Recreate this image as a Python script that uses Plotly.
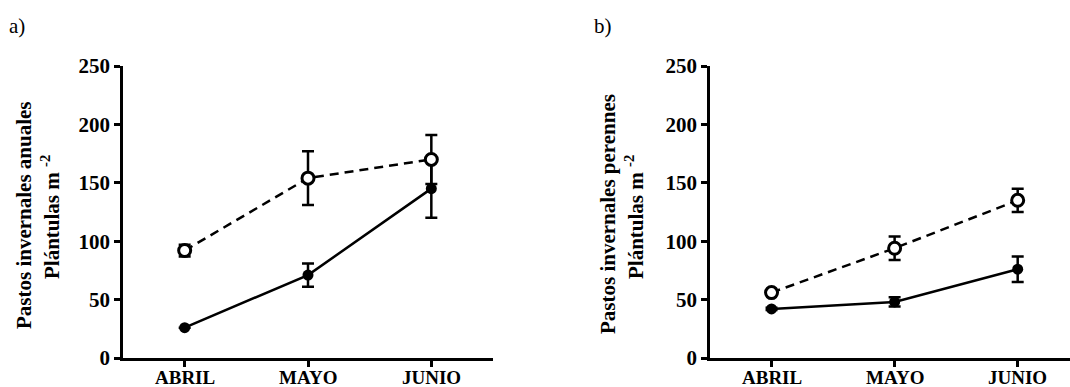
import plotly.graph_objects as go

# Sampling months
months = ["ABRIL", "MAYO", "JUNIO"]

# a) annual winter grasses (plants per m2)
a_open = [92, 154, 170]
a_open_err = [5, 23, 21]
a_closed = [26, 71, 145]
a_closed_err = [0, 10, 25]

# b) perennial winter grasses (plants per m2)
b_open = [56, 94, 135]
b_open_err = [2, 10, 10]
b_closed = [42, 48, 76]
b_closed_err = [1, 4, 11]

FONT = "Liberation Serif, Times New Roman, serif"
BLACK = "#000000"
LW = 2.5

fig = go.Figure()


def add_series(y, err, xa, ya, filled):
    fig.add_trace(go.Scatter(
        x=list(range(len(months))), y=y,
        xaxis=xa, yaxis=ya,
        mode="lines+markers",
        line=dict(color=BLACK, width=LW, dash="solid" if filled else "9px,6px"),
        marker=dict(
            symbol="circle",
            size=11 if filled else 12,
            color=BLACK if filled else "white",
            line=dict(color=BLACK, width=0 if filled else 3),
        ),
        error_y=dict(type="data", array=err, visible=True,
                     color=BLACK, thickness=LW, width=6),
        showlegend=False,
        cliponaxis=False,
    ))


add_series(a_closed, a_closed_err, "x", "y", True)
add_series(a_open, a_open_err, "x", "y", False)
add_series(b_closed, b_closed_err, "x2", "y2", True)
add_series(b_open, b_open_err, "x2", "y2", False)

W, H = 1070, 387
y_dom = [1 - 358 / H, 1 - 66 / H]

y_tick_font = dict(family=FONT, size=21, color=BLACK, weight="bold")
x_tick_font = dict(family=FONT, size=19, color=BLACK, weight="bold")

# month labels are placed as annotations just under the axis line
common_x = dict(
    tickmode="array", tickvals=[0, 1, 2], showticklabels=False,
    showline=True, linecolor=BLACK, linewidth=LW,
    ticks="outside", ticklen=6, tickwidth=LW, tickcolor=BLACK,
    showgrid=False, zeroline=False, automargin=False,
)
common_y = dict(
    range=[0, 250], tickvals=[0, 50, 100, 150, 200, 250],
    showline=True, linecolor=BLACK, linewidth=LW,
    ticks="outside", ticklen=6, tickwidth=LW, tickcolor=BLACK,
    showgrid=False, zeroline=False, automargin=False,
    tickfont=y_tick_font,
    domain=y_dom,
)

fig.update_layout(
    width=W, height=H,
    margin=dict(l=0, r=0, t=0, b=0),
    paper_bgcolor="white", plot_bgcolor="white",
    xaxis=dict(domain=[123 / W, 493 / W], range=[-0.5, 2.5], anchor="y", **common_x),
    yaxis=dict(anchor="x", **common_y),
    xaxis2=dict(domain=[710 / W, 1.0], range=[-0.5, (1070 - 771) / 123.3], anchor="y2", **common_x),
    yaxis2=dict(anchor="x2", **common_y),
)

# Month labels under each x axis
for xref in ("x", "x2"):
    for i, m in enumerate(months):
        fig.add_annotation(
            text=m, x=i, xref=xref, y=1 - 377 / H, yref="paper",
            showarrow=False, font=x_tick_font,
            xanchor="center", yanchor="middle",
        )

title_font = dict(family=FONT, size=21, color=BLACK, weight="bold")


def add_text(text, xpx, ypx, angle=0, font=title_font):
    fig.add_annotation(
        text=text, x=xpx / W, y=1 - ypx / H, xref="paper", yref="paper",
        showarrow=False, textangle=angle, font=font,
        xanchor="center", yanchor="middle",
    )


# Panel letters
letter_font = dict(family=FONT, size=21, color=BLACK)
add_text("a)", 17, 26, font=letter_font)
add_text("b)", 603, 26, font=letter_font)

# Y-axis titles (two lines each)
add_text("Pastos invernales anuales", 24, 215, angle=-90)
add_text("Plántulas m <sup>-2</sup>", 51, 217, angle=-90)
add_text("Pastos invernales perennes", 608, 214, angle=-90)
add_text("Plántulas m <sup>-2</sup>", 635, 217, angle=-90)

fig.write_html("out.html")
